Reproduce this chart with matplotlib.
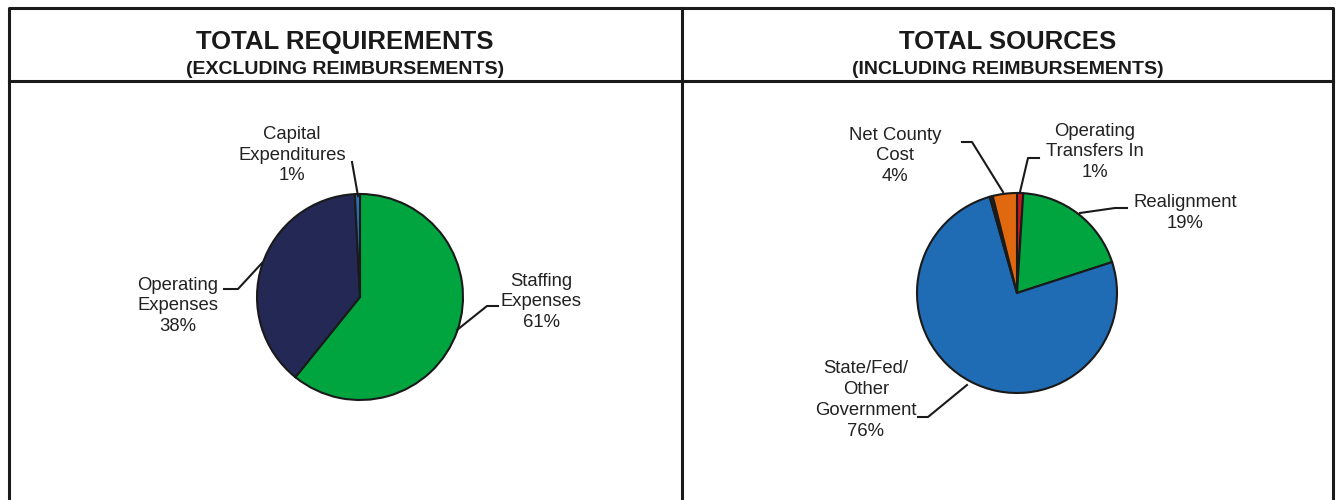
import matplotlib.pyplot as plt

plt.rcParams['font.family'] = ['Liberation Sans', 'DejaVu Sans']

# requirements (excluding reimbursements), percent of total
req_names = ['Staffing\nExpenses', 'Operating\nExpenses', 'Capital\nExpenditures']
req_values = [60.8, 38.4, 0.8]
req_colors = ['#00a53f', '#232855', '#2d6db5']

# sources (including reimbursements), percent of total
src_names = ['Operating\nTransfers In', 'Realignment', 'State/Fed/\nOther\nGovernment',
             'Other', 'Net County\nCost']
src_values = [1.0, 19.0, 75.6, 0.5, 3.9]
src_colors = ['#c8171e', '#00a53f', '#1f6bb4', '#222222', '#e0690f']

W, H = 1342, 500
fig = plt.figure(figsize=(W / 100, H / 100), dpi=100)
ax = fig.add_axes([0, 0, 1, 1])

def Y(y):
    # page coordinates are measured from the top
    return H - y

# frame: outer box, middle divider, header rule
lc = '#1a1a1a'
lw = 2.2
ax.plot([9, 9, 1333, 1333], [Y(500), Y(8), Y(8), Y(500)], color=lc, lw=lw)
ax.plot([682, 682], [Y(8), Y(500)], color=lc, lw=lw)
ax.plot([9, 1333], [Y(81), Y(81)], color=lc, lw=lw)

for cx, title, sub in [(345, 'TOTAL REQUIREMENTS', '(EXCLUDING REIMBURSEMENTS)'),
                       (1008, 'TOTAL SOURCES', '(INCLUDING REIMBURSEMENTS)')]:
    ax.text(cx, Y(42), title, ha='center', va='center',
            fontsize=18.5, fontweight='bold', color='#1a1a1a')
    ax.text(cx, Y(69), sub, ha='center', va='center',
            fontsize=14, fontweight='bold', color='#1a1a1a')

wedge_style = dict(edgecolor='#1a1a1a', linewidth=1.5)
ax.pie(req_values, colors=req_colors, startangle=90, counterclock=False,
       center=(360, Y(297)), radius=103, wedgeprops=wedge_style, frame=True)
ax.pie(src_values, colors=src_colors, startangle=90, counterclock=False,
       center=(1017, Y(293)), radius=100, wedgeprops=wedge_style, frame=True)
ax.set_xlim(0, W)
ax.set_ylim(0, H)
ax.axis('off')

def label(name, value, x, y, leader):
    ax.text(x, Y(y), f'{name}\n{round(value)}%', ha='center', va='center',
            fontsize=13.3, color='#222222', linespacing=1.3)
    xs = [p[0] for p in leader]
    ys = [Y(p[1]) for p in leader]
    ax.plot(xs, ys, color=lc, lw=1.5)

label(req_names[0], req_values[0], 541, 302, [(498, 306), (487, 306), (457, 330)])
label(req_names[1], req_values[1], 178, 306, [(224, 289), (238, 289), (262, 263)])
label(req_names[2], req_values[2], 292, 155, [(352, 162), (358, 196)])

label(src_names[0], src_values[0], 1095, 152, [(1039, 158), (1028, 158), (1020, 192)])
label(src_names[1], src_values[1], 1185, 213, [(1127, 208), (1115, 208), (1080, 213)])
label(src_names[2], src_values[2], 866, 400, [(918, 417), (928, 417), (967, 385)])
label(src_names[4], src_values[4], 895, 156, [(962, 142), (972, 142), (1003, 192)])

fig.savefig('out.png', dpi=100, facecolor='white')
